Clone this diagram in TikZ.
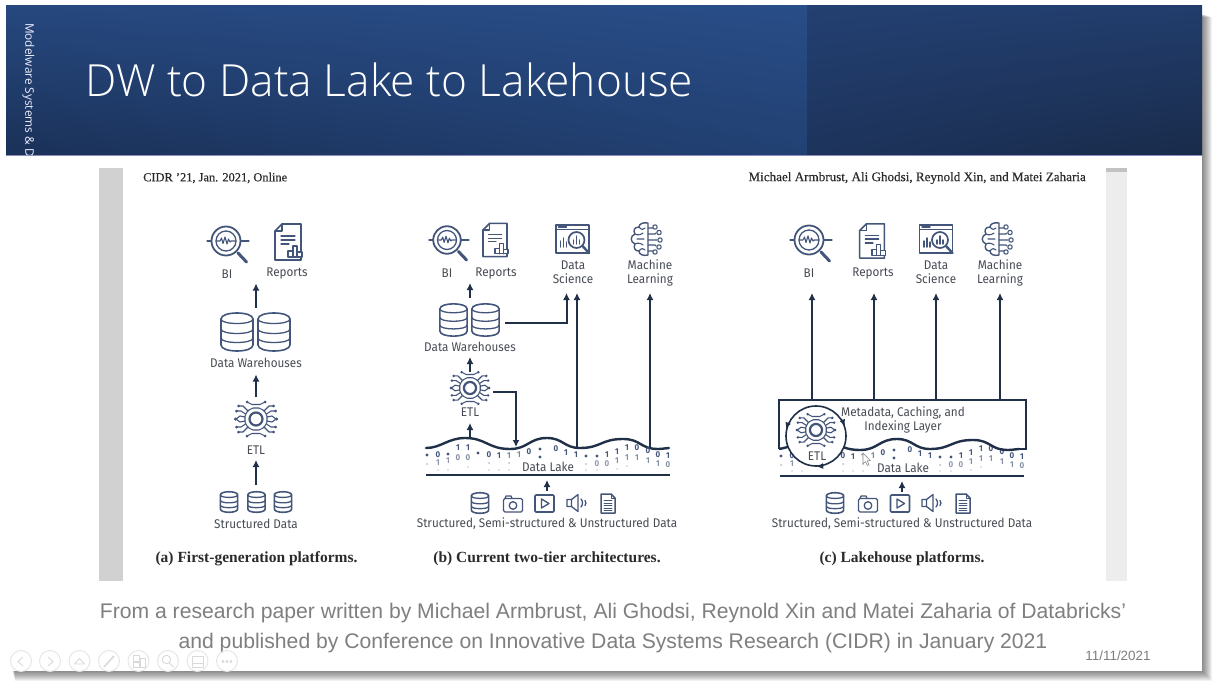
\documentclass[tikz,border=0pt]{standalone}
\usepackage{fontspec}
\setmainfont{Liberation Sans}
\newfontfamily\lblfont{Fira Sans}[FakeStretch=0.93]
\newfontfamily\titlefont{Open Sans}[UprightFont=* Light]
\newfontfamily\sidefont{Open Sans}
\newfontfamily\capfont{Liberation Serif}
\newfontfamily\headfont{Liberation Serif}[FakeBold=0.35]
\usetikzlibrary{arrows.meta,calc}
\definecolor{linec}{HTML}{1F3048}
\definecolor{iconc}{HTML}{44557A}
\definecolor{labelc}{HTML}{474C54}
\definecolor{capc}{HTML}{2B2B2B}
\definecolor{slidegray}{HTML}{7F7F7F}
\pgfdeclarefunctionalshading{hdrleft}{\pgfpoint{-50bp}{-50bp}}{\pgfpoint{50bp}{50bp}}{}{
  100 div 0.5 add exch 100 div 0.5 add exch
  dup 1 exch sub 3 -1 roll mul exch
  2 copy 0.113 mul exch 0.08 mul add 0.06 add 3 1 roll
  2 copy 0.215 mul exch 0.16 mul add 0.11 add 3 1 roll
  0.373 mul exch 0.28 mul add 0.20 add
}
\pgfdeclarefunctionalshading{hdrright}{\pgfpoint{-50bp}{-50bp}}{\pgfpoint{50bp}{50bp}}{}{
  100 div 0.5 add exch 100 div 0.5 add exch
  dup 1 exch sub 3 -1 roll 1 exch sub mul exch
  2 copy 0.08 mul exch 0.04 mul add 0.07 add 3 1 roll
  2 copy 0.165 mul exch 0.09 mul add 0.11 add 3 1 roll
  0.31 mul exch 0.18 mul add 0.18 add
}
\newcommand\slotnode[5]{\node[slot,minimum width={(#4-#2)*1pt},minimum height={(#5-#3)*1pt}] (#1) at ({(#2+#4)/2},{(#3+#5)/2}) {};}
\def\bitclip{0}
\tikzset{
  slot/.style={inner sep=0pt,outer sep=0pt},
  lbl/.style={font=\lblfont\fontsize{12.6}{14}\selectfont,text=labelc,inner sep=0pt,align=center},
  caption/.style={font=\capfont\bfseries\fontsize{15.5}{17}\selectfont,text=capc,inner sep=0pt},
  paperhead/.style={font=\headfont\fontsize{12.4}{14}\selectfont,text=capc,inner sep=0pt},
  paperheadb/.style={font=\headfont\fontsize{13.1}{14}\selectfont,text=capc,inner sep=0pt},
  slidetext/.style={font=\fontsize{21.15}{24}\selectfont,text=slidegray,inner sep=0pt},
  arr/.style={-{Latex[length=7pt,width=7pt]},line width=2pt,draw=linec},
  lakeline/.style={line width=2pt,draw=linec},
  ico/.style={draw=iconc,line width=1.3pt,line join=round,line cap=round},
  bit/.style={font=\lblfont\bfseries\fontsize{8.5}{7}\selectfont,text=iconc,inner sep=0pt,text height=5.5pt,text depth=0pt},
  tbcirc/.style={circle,draw=black!10,line width=.9pt,minimum size=21pt,inner sep=0pt},
  tbglyph/.style={draw=black!15,line width=.9pt,line join=round},
  bi/.pic={
    \draw[ico] (-19,0)--(-15,0) (15,0)--(23,0);
    \draw[ico,line width=1.8pt] (0,0) circle (14.5);
    \draw[ico] (0,0) circle (10);
    \draw[ico,line width=1.1pt] (-9,0)--(-6,0)--(-4.5,-3)--(-3,2.5)--(-1,-4)--(1,3)--(2.5,-2)--(4,1)--(5,0)--(9,0);
    \draw[ico,line width=3pt] (12,12)--(20.5,21);
  },
  report/.pic={
    \draw[ico,line width=1.6pt] (-6,-18)--(13,-18)--(13,18)--(-13,18)--(-13,-11)--cycle;
    \draw[ico] (-6,-18)--(-6,-11)--(-13,-11);
    \draw[ico] (-7,-6)--(7,-6) (-7,-2)--(7,-2) (-7,2)--(1,2);
    \draw[ico,fill=white] (0,15)--(0,9)--(5,9)--(5,4)--(9,4)--(9,10)--(14,10)--(14,15)--cycle (5,9)--(5,15) (9,10)--(9,15);
  },
  dbicon/.pic={
    \draw[ico,line width=1.6pt,fill=white] (-16,-13) .. controls (-16,-21) and (16,-21) .. (16,-13) -- (16,13) .. controls (16,21) and (-16,21) .. (-16,13) -- cycle;
    \draw[ico] (-16,-13) .. controls (-16,-7) and (16,-7) .. (16,-13);
    \draw[ico] (-16,-3) .. controls (-16,3) and (16,3) .. (16,-3);
    \draw[ico] (-16,6) .. controls (-16,12) and (16,12) .. (16,6);
  },
  chip/.pic={
    \draw[ico,line width=2.2pt] (0,0) circle (6.5);
    \draw[ico,line width=1.1pt] (-7,-9)--(-3,-11)--(3,-11)--(7,-9)--(9,-7)--(11,-3)--(11,3)--(9,7)--(7,9)--(3,11)--(-3,11)--(-7,9)--(-9,7)--(-11,3)--(-11,-3)--(-9,-7)--cycle;
    \foreach \sx in {1,-1} \foreach \sy in {1,-1} {
      \begin{scope}[xscale=\sx,yscale=\sy]
        \draw[ico,line width=1.1pt] (8,-8)--(13,-13)--(17,-13);
        \draw[ico,line width=1.1pt] (10.5,-5)--(15,-8)--(19,-8);
        \draw[ico,line width=1.1pt] (11,-2)--(16,-3)--(20,0);
        \draw[ico,line width=1.1pt] (0,-14.5)--(4,-14.5)--(9,-17);
        \fill[iconc] (17.5,-13) circle (1.5) (19.5,-8) circle (1.5) (20.5,0) circle (1.5) (9,-17) circle (1.5);
      \end{scope}
    }
  },
  dscience/.pic={
    \draw[ico,line width=1.7pt] (-16.5,-14) rectangle (16.5,14);
    \draw[ico] (-16.5,-9.5)--(16.5,-9.5);
    \draw[ico,line width=1.4pt] (-14,-12)--(-6,-12);
    \draw[ico,line width=1.5pt] (-12,8)--(-12,2) (-9,8)--(-9,-1) (-6,8)--(-6,3);
    \draw[ico,fill=white,line width=1.7pt] (4,1) circle (8);
    \draw[ico,line width=1.4pt] (1,5)--(1,1) (4,5)--(4,-3) (7,5)--(7,1);
    \draw[ico,line width=2.4pt] (10,7)--(16.5,14);
  },
  brain/.pic={
    \draw[ico,line width=1.4pt] (1,-16) .. controls (-4,-17) and (-8,-15) .. (-8,-12) .. controls (-13,-12) and (-14,-8) .. (-12,-5) .. controls (-17,-3) and (-17,3) .. (-12,5) .. controls (-14,9) and (-12,12) .. (-8,12) .. controls (-8,16) and (-3,17) .. (1,16) -- (1,-16);
    \draw[ico,line width=1.1pt] (-8,-12) .. controls (-6,-9) and (-3,-9) .. (-2,-11) (-12,-5) .. controls (-9,-3) and (-5,-5) .. (-4,-6) (-12,5) .. controls (-9,3) and (-5,5) .. (-4,6) (-8,12) .. controls (-6,9) and (-3,9) .. (-2,11) (-10,0)--(-3,0);
    \draw[ico,line width=1.1pt] (1,-11)--(6,-11) (1,-5)--(8,-5)--(9,-6) (1,1)--(10,1) (1,6)--(8,6)--(9,7) (1,12)--(6,12);
    \draw[ico,line width=1.1pt,fill=white] (8,-12) circle (2.2) (12,-6.5) circle (2.2) (13,1) circle (2.2) (12,8) circle (2.2) (8,13) circle (2.2);
  },
  camera/.pic={
    \draw[ico,rounded corners=1.5pt] (-9.5,-5.5) rectangle (9.5,8);
    \draw[ico] (-8,-5.5)--(-7,-8)--(-2,-8)--(-1,-5.5);
    \draw[ico] (0,1.5) circle (3.8);
  },
  video/.pic={
    \draw[ico,line width=1.6pt,rounded corners=1pt] (-9.5,-8.5) rectangle (9.5,8.5);
    \draw[ico] (-3,-4.5)--(4.5,0)--(-3,4.5)--cycle;
  },
  speaker/.pic={
    \draw[ico] (-10,-3.5)--(-5.5,-3.5)--(1,-8.5)--(1,8.5)--(-5.5,3.5)--(-10,3.5)--cycle (-5.5,-3.5)--(-5.5,3.5);
    \draw[ico] (4,-4) .. controls (6,-2) and (6,2) .. (4,4);
    \draw[ico] (8,-2.5) .. controls (9.2,-1) and (9.2,1) .. (8,2.5);
  },
  docsmall/.pic={
    \draw[ico,line width=1.5pt] (-7,-9.5)--(3,-9.5)--(7,-5.5)--(7,9.5)--(-7,9.5)--cycle;
    \draw[ico,line width=1pt] (3,-9.5)--(3,-5.5)--(7,-5.5);
    \draw[ico,line width=.8pt] (-4,-3)--(4,-3) (-4,-.5)--(4,-.5) (-4,2)--(4,2) (-4,4.5)--(4,4.5) (-4,7)--(4,7);
  },
  lakewave/.pic={
    \draw[line width=2.4pt,draw=linec,line cap=round] (0,-27) .. controls (15,-27) and (22,-37) .. (39,-37) .. controls (60,-37) and (62,-26) .. (84,-26) .. controls (102,-26) and (103,-37) .. (121,-37) .. controls (137,-37) and (138,-27) .. (154,-27) .. controls (175,-27) and (175,-36) .. (197,-36) .. controls (215,-36) and (214,-26) .. (232,-26) .. controls (237,-26) and (240,-27) .. (243,-27);
  },
  bitfield/.pic={
    \foreach \dx/\dy/\ch/\op [count=\k] in {12/-20/0/1,32/-27/1/1,42/-27/1/1,63/-20/0/1,73/-19/1/1,83/-19/1/.7,93/-20/1/.7,103/-23/0/1,130/-26/0/1,140/-22/1/1,150/-20/1/1,181/-20/1/1,191/-23/1/1,201/-27/1/1,211/-27/0/1,222/-24/0/1,232/-20/0/1,242/-19/1/1,
      32/-17/0/.65,42/-17/0/.65,12/-12/1/.6,22/-14/1/.6,171/-11/0/.6,181/-11/0/.6,191/-14/1/.65,201/-17/1/.65,211/-17/1/.65,222/-14/1/.65,232/-11/1/.65,242/-10/0/.65}
      {\pgfmathtruncatemacro\hiddenbit{\bitclip*((((\dx-36)/10)^2+((\dy+40)/10)^2<9.6)?1:0)}
       \ifnum\hiddenbit=0 \node[bit,opacity=\op] (n\k) at (\dx,\dy) {\ch};\fi}
    \foreach \dx/\dy/\rad/\op in {1/-20/1.6/1,22/-21/1.6/1,52/-22/1.6/1,114/-26/1.6/1,114/-18/1.6/1,160/-19/1.6/1,171/-19/1.6/1,
      1/-11/1/.4,63/-12/1/.4,83/-12/1/.4,160/-11/1/.4,
      12/-5/.9/.3,22/-5/.9/.3,42/-8/.9/.3,63/-5/.9/.3,73/-5/.9/.3,83/-5/.9/.3,160/-5/.9/.3,171/-5/.9/.3,191/-6/.9/.3,201/-9/.9/.3}
      {\pgfmathtruncatemacro\hiddenbit{\bitclip*((((\dx-36)/10)^2+((\dy+40)/10)^2<9.6)?1:0)}
       \ifnum\hiddenbit=0 \fill[iconc,opacity=\op] (\dx,\dy) circle (\rad);\fi}
    \draw[lakeline] (0,0)--(244,0);
  },
}
\begin{document}
\begin{tikzpicture}[x=1pt,y=-1pt]
\useasboundingbox (0,0) rectangle (1221,690);
% page and slide shadow
\fill[white] (0,0) rectangle (1221,690);
\foreach \i in {1,...,10} {
  \fill[black,opacity=.055] (12+\i*.3,14+\i*.3) rectangle (1202+\i,671+\i);
}
\fill[white] (6,6) rectangle (1202,671);
% header
\shade[shading=hdrleft] (6,6) rectangle (807,155);
\shade[shading=hdrright] (807,6) rectangle (1202,155);
\draw[line width=1pt,draw=black!55!blue!45] (6,155.5)--(1202,155.5);
\begin{scope}
  \clip (6,6) rectangle (1202,155);
  \node[rotate=-90,anchor=north west,inner sep=0pt,text=white!94!blue,font=\sidefont\fontsize{11.8}{14}\selectfont] (sidetext) at (34.5,23) {Modelware Systems \& D};
\end{scope}
\node[anchor=base west,inner sep=0pt,text=white,font=\titlefont\fontsize{44.3}{50}\selectfont] (title) at (85,96.5) {DW to Data Lake to Lakehouse};
% paper image
\fill[white] (99,168) rectangle (1127,581);
\fill[black!18] (99,168) rectangle (123,581);
\fill[black!7] (1106,168) rectangle (1127,581);
\fill[black!24] (1106,168) rectangle (1127,172);
\node[paperhead,anchor=west] (headL) at (143,178) {CIDR ’21, Jan. 2021, Online};
\node[paperheadb,anchor=east] (headR) at (1086,178) {Michael Armbrust, Ali Ghodsi, Reynold Xin, and Matei Zaharia};
% ---------- panel a
\pic at (226,241) {bi};
\pic at (288,242) {report};
\node[lbl] (aBI) at (227,274) {BI};
\node[lbl] (aRep) at (287,274) {Reports};
\pic at (237,332) {dbicon};
\pic at (274,332) {dbicon};
\node[lbl] (aDWl) at (256,363) {Data Warehouses};
\pic at (256,419) {chip};
\node[lbl] (aETLl) at (256,450) {ETL};
\pic[scale=.54] at (229,502) {dbicon};
\pic[scale=.54] at (256.5,502) {dbicon};
\pic[scale=.54] at (283,502) {dbicon};
\node[lbl] (aSrcl) at (256,524) {Structured Data};
\node[caption] (aCap) at (256.5,559) {(a) First-generation platforms.};
\slotnode{aTop}{206}{224}{306}{283.5}
\slotnode{aDW}{210}{308}{302}{374.5}
\slotnode{aETL}{232}{397}{280}{460}
\slotnode{aSrc}{215}{485}{297}{530}
\draw[arr] (aSrc.north)--(aETL.south);
\draw[arr] (aETL.north)--(aDW.south);
\draw[arr] (aDW.north)--(aTop.south);
% ---------- panel b
\pic[scale=.95] at (447,240) {bi};
\pic[scale=.92] at (495,240) {report};
\node[lbl] (bBI) at (447,273.5) {BI};
\node[lbl] (bRep) at (496,273.5) {Reports};
\pic at (572.5,239) {dscience};
\pic at (647,239) {brain};
\node[lbl] (bDS) at (573,272.5) {Data\\Science};
\node[lbl] (bML) at (650,273) {Machine\\Learning};
\pic[scale=.85] at (453.5,320) {dbicon};
\pic[scale=.85] at (485.5,320) {dbicon};
\node[lbl] (bDWl) at (470,347) {Data Warehouses};
\pic[scale=.93] at (470,388) {chip};
\node[lbl] (bETLl) at (470,412) {ETL};
\pic at (426,475) (bw) {lakewave};
\pic at (426,475) (bb) {bitfield};
\node[lbl] (bLake) at (548,467) {Data Lake};
\pic[scale=.54] at (480,503) {dbicon};
\pic at (513,504) {camera};
\pic at (544.5,503.5) {video};
\pic at (577,503) {speaker};
\pic at (608,503.5) {docsmall};
\node[lbl] (bSrcl) at (547,524) {Structured, Semi-structured \& Unstructured Data};
\node[caption] (bCap) at (547,559) {(b) Current two-tier architectures.};
\slotnode{bTop}{425}{224}{515}{283}
\slotnode{bDW}{425}{298}{515}{357}
\slotnode{bETL}{448}{372}{492}{423}
\slotnode{bSrc}{470}{491}{624}{530}
\coordinate (bLakeBase) at (547,480);
\coordinate (bWave1) at (470,438);
\coordinate (bWave2) at (516,447);
\coordinate (bWave3) at (577,448);
\coordinate (bWave4) at (650,448);
\coordinate (bDWout) at (505,323);
\coordinate (bETLout) at (493,392);
\coordinate (bDSa) at (566.5,293);
\coordinate (bDSb) at (577,293);
\coordinate (bMLin) at (650,293);
\draw[arr] (bETL.north)--(bDW.south);
\draw[arr] (bDW.north)--(bTop.south);
\draw[arr] (bWave1)--(bETL.south);
\draw[arr] (bETLout)-|(bWave2);
\draw[arr] (bDWout)-|(bDSa);
\draw[arr] (bWave3)--(bDSb);
\draw[arr] (bWave4)--(bMLin);
\draw[arr] (bSrc.north)--(bLakeBase);
% ---------- panel c
\pic at (809,240) {bi};
\pic[scale=.95] at (872,241) {report};
\pic at (936,239) {dscience};
\pic at (998,239) {brain};
\node[lbl] (cBI) at (809,273.5) {BI};
\node[lbl] (cRep) at (873,273.5) {Reports};
\node[lbl] (cDS) at (936,272.5) {Data\\Science};
\node[lbl] (cML) at (1000,273) {Machine\\Learning};
\def\bitclip{1}
\pic at (780,476) (cb) {bitfield};
\begin{scope}
  \clip (779,420) rectangle (1026,460);
  \pic at (776,476) (cw) {lakewave};
\end{scope}
\coordinate (cBL) at (779,449);
\coordinate (cTL) at (779,400);
\coordinate (cTR) at (1026,400);
\coordinate (cBR) at (1026,449);
\draw[lakeline,line join=miter] (cBL)--(cTL)--(cTR)--(cBR)--(1019,449);
\node[lbl] (cMeta) at (903,420) {Metadata, Caching, and\\Indexing Layer};
\node[lbl] (cLake) at (903,468) {Data Lake};
\node[circle,draw=linec,fill=white,line width=1.6pt,minimum size=60pt,inner sep=0pt] (cCycle) at (816,436) {};
\draw[-{Latex[length=6pt,width=6pt]},line width=1pt,draw=linec] (cCycle.154)--(cCycle.166);
\draw[-{Latex[length=6pt,width=6pt]},line width=1pt,draw=linec] (cCycle.32)--(cCycle.20);
\draw[-{Latex[length=6pt,width=6pt]},line width=1pt,draw=linec] (cCycle.284)--(cCycle.272);
\pic[scale=.93] at (816,430) {chip};
\node[lbl] (cETLl) at (817,456) {ETL};
\fill[white,draw=black!45,line width=.6pt,line join=round] (863,453)--(863,464)--(865.5,461.5)--(867.3,465.5)--(869,464.7)--(867.2,460.8)--(870.3,460.6)--cycle;
\pic[scale=.54] at (835,503) {dbicon};
\pic at (868,504) {camera};
\pic at (900,503.5) {video};
\pic at (932,503) {speaker};
\pic at (963,503.5) {docsmall};
\node[lbl] (cSrcl) at (902,524) {Structured, Semi-structured \& Unstructured Data};
\node[caption] (cCap) at (902,559) {(c) Lakehouse platforms.};
\slotnode{cSrc}{825}{492}{979}{530}
\coordinate (cLakeBase) at (902,481);
\coordinate (cU1) at (812,293);
\coordinate (cU2) at (874,293);
\coordinate (cU3) at (936,293);
\coordinate (cU4) at (1000,293);
\coordinate (cB1) at (812,400);
\coordinate (cB2) at (874,400);
\coordinate (cB3) at (936,400);
\coordinate (cB4) at (1000,400);
\draw[arr] (cB1)--(cU1);
\draw[arr] (cB2)--(cU2);
\draw[arr] (cB3)--(cU3);
\draw[arr] (cB4)--(cU4);
\draw[arr] (cSrc.north)--(cLakeBase);
% ---------- slide text
\node[slidetext] (cap1) at (613,613) {From a research paper written by Michael Armbrust, Ali Ghodsi, Reynold Xin and Matei Zaharia of Databricks’};
\node[slidetext] (cap2) at (613,643) {and published by Conference on Innovative Data Systems Research (CIDR) in January 2021};
\node[inner sep=0pt,text=slidegray,font=\fontsize{13.4}{15}\selectfont] (date) at (1118,656) {11/11/2021};
% ---------- toolbar
\begin{scope}
\clip (0,630) rectangle (260,671.5);
\node[tbcirc] (tb1) at (21,661) {};
\node[tbcirc] (tb2) at (50,661) {};
\node[tbcirc] (tb3) at (79.5,661) {};
\node[tbcirc] (tb4) at (109,661) {};
\node[tbcirc] (tb5) at (138.5,661) {};
\node[tbcirc] (tb6) at (168,661) {};
\node[tbcirc] (tb7) at (197.5,661) {};
\node[tbcirc] (tb8) at (227,661) {};
\draw[tbglyph] (23,657)--(18,661.5)--(23,666);
\draw[tbglyph] (48,657)--(53,661.5)--(48,666);
\draw[tbglyph] (74.5,664)--(79.5,658.5)--(84.5,664)--cycle;
\draw[tbglyph,line width=1.6pt] (104,667)--(114,656);
\draw[tbglyph] (133,655) rectangle (139,661) (133,662) rectangle (139,667) (140,658) rectangle (145,667);
\draw[tbglyph] (166.5,659.5) circle (4.2) (169.5,663)--(174,667.5);
\draw[tbglyph] (192,656) rectangle (203,667) (192,663)--(203,663);
\draw[tbglyph] (223,661.5) circle (1) (227,661.5) circle (1) (231,661.5) circle (1);
\end{scope}
\end{tikzpicture}
\end{document}
